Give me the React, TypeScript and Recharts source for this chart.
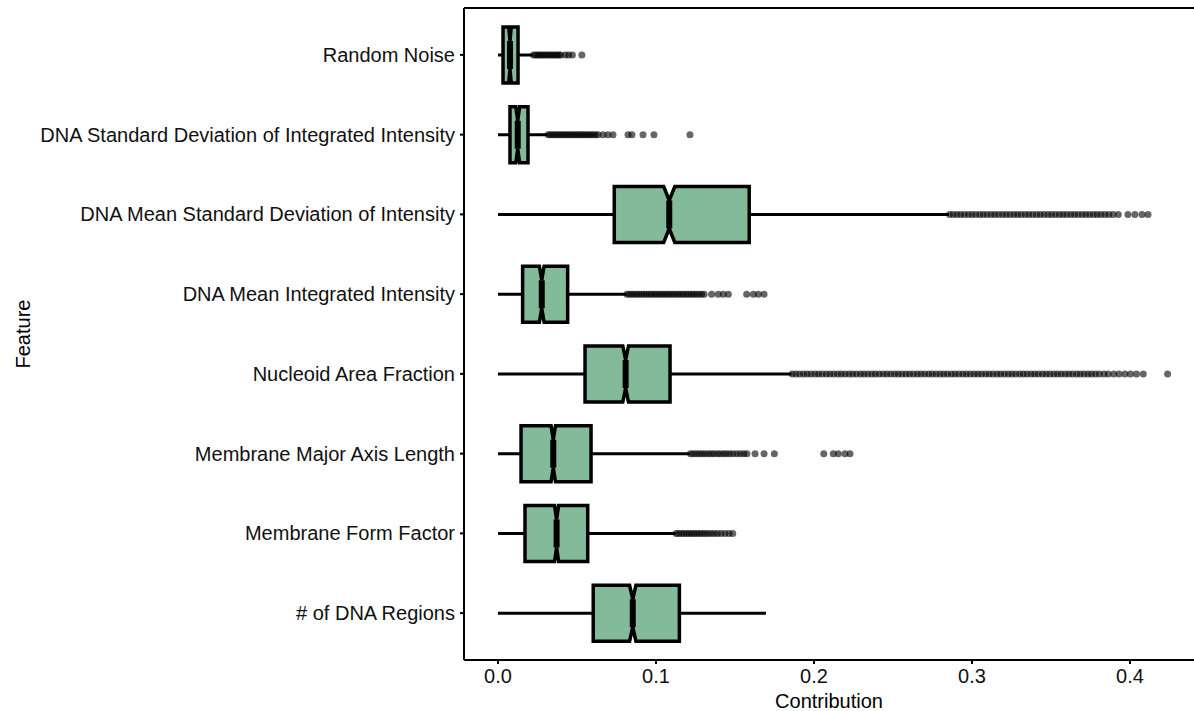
import React from "react";
import { ComposedChart, Bar, Scatter, XAxis, YAxis } from "recharts";

const features = [
  "Random Noise",
  "DNA Standard Deviation of Integrated Intensity",
  "DNA Mean Standard Deviation of Intensity",
  "DNA Mean Integrated Intensity",
  "Nucleoid Area Fraction",
  "Membrane Major Axis Length",
  "Membrane Form Factor",
  "# of DNA Regions",
];
const whiskerLow = [0, 0, 0, 0, 0, 0, 0, 0];
const q1 = [0.0032, 0.0076, 0.0736, 0.0156, 0.0551, 0.0146, 0.0171, 0.0603];
const median = [0.0076, 0.0125, 0.1084, 0.0277, 0.0808, 0.035, 0.0371, 0.0853];
const q3 = [0.0127, 0.019, 0.159, 0.0441, 0.1089, 0.0589, 0.0568, 0.1148];
const whiskerHigh = [0.0222, 0.0316, 0.2854, 0.0814, 0.1859, 0.1215, 0.1125, 0.1696];
const notchHalf = [0.0008, 0.0012, 0.0035, 0.0015, 0.0018, 0.0014, 0.0013, 0.002];

const outRandomNoise = [0.0225, 0.0238, 0.0251, 0.0262, 0.0274, 0.0287, 0.0299, 0.0311, 0.0324, 0.0336, 0.0349, 0.0361, 0.0374, 0.0386, 0.0397, 0.0426, 0.0447, 0.0471, 0.0531];
const outDnaStdInt = [0.0318, 0.0331, 0.0345, 0.0358, 0.0371, 0.0385, 0.0398, 0.0412, 0.0425, 0.0439, 0.0452, 0.0466, 0.0479, 0.0493, 0.0506, 0.052, 0.0534, 0.0547, 0.0561, 0.0575, 0.0589, 0.0603, 0.0618, 0.0633, 0.0665, 0.0696, 0.0728, 0.0823, 0.0848, 0.0918, 0.0987, 0.1215];
const outDnaMeanStd = [0.2858, 0.2881, 0.2905, 0.2928, 0.2952, 0.2977, 0.3, 0.3024, 0.3049, 0.3072, 0.3096, 0.3121, 0.3144, 0.3168, 0.3193, 0.3216, 0.324, 0.3265, 0.3288, 0.3312, 0.3337, 0.336, 0.3384, 0.3409, 0.3432, 0.3456, 0.3481, 0.3504, 0.3528, 0.3553, 0.3576, 0.36, 0.3625, 0.3648, 0.3672, 0.3697, 0.372, 0.3744, 0.3769, 0.3792, 0.3816, 0.3841, 0.3866, 0.3893, 0.3926, 0.3987, 0.4031, 0.4076, 0.4114];
const outDnaMeanInt = [0.0816, 0.0831, 0.0847, 0.0862, 0.0878, 0.0893, 0.0909, 0.0925, 0.094, 0.0956, 0.0971, 0.0987, 0.1002, 0.1018, 0.1034, 0.1049, 0.1065, 0.108, 0.1096, 0.1111, 0.1127, 0.1143, 0.1158, 0.1174, 0.119, 0.1206, 0.1222, 0.1238, 0.1255, 0.1271, 0.1289, 0.1305, 0.1352, 0.1394, 0.1426, 0.1458, 0.1574, 0.1616, 0.1648, 0.1684];
const outNucleoid = [0.1862, 0.1885, 0.1909, 0.1934, 0.1957, 0.1981, 0.2006, 0.2029, 0.2053, 0.2078, 0.2101, 0.2125, 0.215, 0.2173, 0.2197, 0.2222, 0.2245, 0.2269, 0.2294, 0.2317, 0.2341, 0.2366, 0.2389, 0.2413, 0.2438, 0.2461, 0.2485, 0.251, 0.2533, 0.2557, 0.2582, 0.2605, 0.2629, 0.2654, 0.2677, 0.2701, 0.2726, 0.2749, 0.2773, 0.2798, 0.2821, 0.2845, 0.287, 0.2893, 0.2917, 0.2942, 0.2965, 0.2989, 0.3014, 0.3037, 0.3061, 0.3086, 0.3109, 0.3133, 0.3158, 0.3181, 0.3205, 0.323, 0.3253, 0.3277, 0.3302, 0.3325, 0.3349, 0.3374, 0.3397, 0.3421, 0.3446, 0.3469, 0.3493, 0.3518, 0.3541, 0.3565, 0.359, 0.3613, 0.3637, 0.3662, 0.3685, 0.3709, 0.3734, 0.3757, 0.3781, 0.3806, 0.3835, 0.3862, 0.3897, 0.3931, 0.3968, 0.4003, 0.4041, 0.4084, 0.4238];
const outMembraneMajor = [0.1218, 0.1236, 0.1255, 0.1273, 0.1292, 0.131, 0.1331, 0.1349, 0.1368, 0.1389, 0.1407, 0.1428, 0.1446, 0.1467, 0.1488, 0.1512, 0.1534, 0.1556, 0.1576, 0.1627, 0.1684, 0.1749, 0.2062, 0.2122, 0.2154, 0.2196, 0.2228];
const outMembraneForm = [0.1127, 0.1143, 0.116, 0.1176, 0.1193, 0.1209, 0.1226, 0.1242, 0.1259, 0.1276, 0.1293, 0.1311, 0.1329, 0.1348, 0.1368, 0.1389, 0.1412, 0.1437, 0.1462, 0.1486];
const outDnaRegions: number[] = [];

const outliers = [
  outRandomNoise,
  outDnaStdInt,
  outDnaMeanStd,
  outDnaMeanInt,
  outNucleoid,
  outMembraneMajor,
  outMembraneForm,
  outDnaRegions,
];

const xDomain = [-0.0215, 0.4405];
const xTicks = [0, 0.1, 0.2, 0.3, 0.4];

const boxData = features.map((f, i) => ({
  feature: f,
  range: [whiskerLow[i], whiskerHigh[i]],
  min: whiskerLow[i],
  q1: q1[i],
  median: median[i],
  q3: q3[i],
  max: whiskerHigh[i],
  notchLo: median[i] - notchHalf[i],
  notchHi: median[i] + notchHalf[i],
}));

const outlierData = features.flatMap((f, i) => outliers[i].map((v) => ({ feature: f, value: v })));

const FILL = "#83BA9A";
const FONT = "'Liberation Sans', Arial, sans-serif";

const BoxShape = (props: any) => {
  const { x, y, width, height, payload } = props;
  if (!payload || width == null) return null;
  const { min, q1, median, q3, max, notchLo, notchHi } = payload;
  const k = width / (max - min);
  const px = (v: number) => x + (v - min) * k;
  const cy = y + height / 2;
  const top = y;
  const bot = y + height;
  const inset = height / 4;
  const pts = [
    [px(q1), top],
    [px(notchLo), top],
    [px(median), top + inset],
    [px(notchHi), top],
    [px(q3), top],
    [px(q3), bot],
    [px(notchHi), bot],
    [px(median), bot - inset],
    [px(notchLo), bot],
    [px(q1), bot],
  ]
    .map((p) => p.join(","))
    .join(" ");
  return (
    <g>
      <line x1={px(min)} x2={px(q1)} y1={cy} y2={cy} stroke="#000" strokeWidth={3} />
      <line x1={px(q3)} x2={px(max)} y1={cy} y2={cy} stroke="#000" strokeWidth={3} />
      <polygon points={pts} fill={FILL} stroke="#000" strokeWidth={3.5} strokeLinejoin="miter" />
      <line x1={px(median)} x2={px(median)} y1={top + inset} y2={bot - inset} stroke="#000" strokeWidth={6} />
    </g>
  );
};

const Dot = (props: any) => {
  const { cx, cy } = props;
  if (cx == null || cy == null) return null;
  return <circle cx={cx} cy={cy} r={3.5} fill="#000" fillOpacity={0.6} />;
};

const FeatureLabel = (props: any) => {
  const vb = props.viewBox || { y: 8, height: 652 };
  const cy = vb.y + vb.height / 2;
  return (
    <text
      x={23}
      y={cy}
      transform={`rotate(-90, 23, ${cy})`}
      textAnchor="middle"
      dominantBaseline="central"
      fontSize={20}
      fontFamily={FONT}
      fill="#000"
    >
      Feature
    </text>
  );
};

export default function App() {
  return (
    <div style={{ width: 1194, height: 711, overflow: "hidden", background: "#fff" }}>
      <style>{`body{margin:0;overflow:hidden;background:#fff}`}</style>
      <ComposedChart
        width={1194}
        height={711}
        data={boxData}
        layout="vertical"
        margin={{ top: 7, right: 0, bottom: 0, left: 0 }}
      >
        <XAxis
          xAxisId="top"
          orientation="top"
          type="number"
          domain={xDomain}
          allowDataOverflow
          height={1}
          tick={false}
          tickLine={false}
          axisLine={{ stroke: "#000", strokeWidth: 2 }}
        />
        <XAxis
          xAxisId="bottom"
          orientation="bottom"
          type="number"
          domain={xDomain}
          ticks={xTicks}
          allowDataOverflow
          height={51}
          tickSize={4}
          tickMargin={5}
          tickFormatter={(v: number) => v.toFixed(1)}
          tick={{ fontSize: 20, fill: "#111", fontFamily: FONT }}
          axisLine={{ stroke: "#000", strokeWidth: 2 }}
          tickLine={{ stroke: "#000", strokeWidth: 2 }}
          label={{ value: "Contribution", position: "insideBottom", offset: 3, fontSize: 20, fill: "#000", fontFamily: FONT }}
        />
        <YAxis
          type="category"
          dataKey="feature"
          width={464}
          interval={0}
          allowDuplicatedCategory={false}
          padding={{ top: 7, bottom: 7 }}
          tickSize={4}
          tickMargin={5}
          tick={{ fontSize: 20, fill: "#111", fontFamily: FONT }}
          axisLine={{ stroke: "#000", strokeWidth: 2 }}
          tickLine={{ stroke: "#000", strokeWidth: 2 }}
          label={{ content: FeatureLabel }}
        />
        <Bar xAxisId="bottom" dataKey="range" barSize={56} shape={BoxShape} isAnimationActive={false} />
        <Scatter xAxisId="top" data={outlierData} dataKey="value" shape={Dot} isAnimationActive={false} />
      </ComposedChart>
    </div>
  );
}
